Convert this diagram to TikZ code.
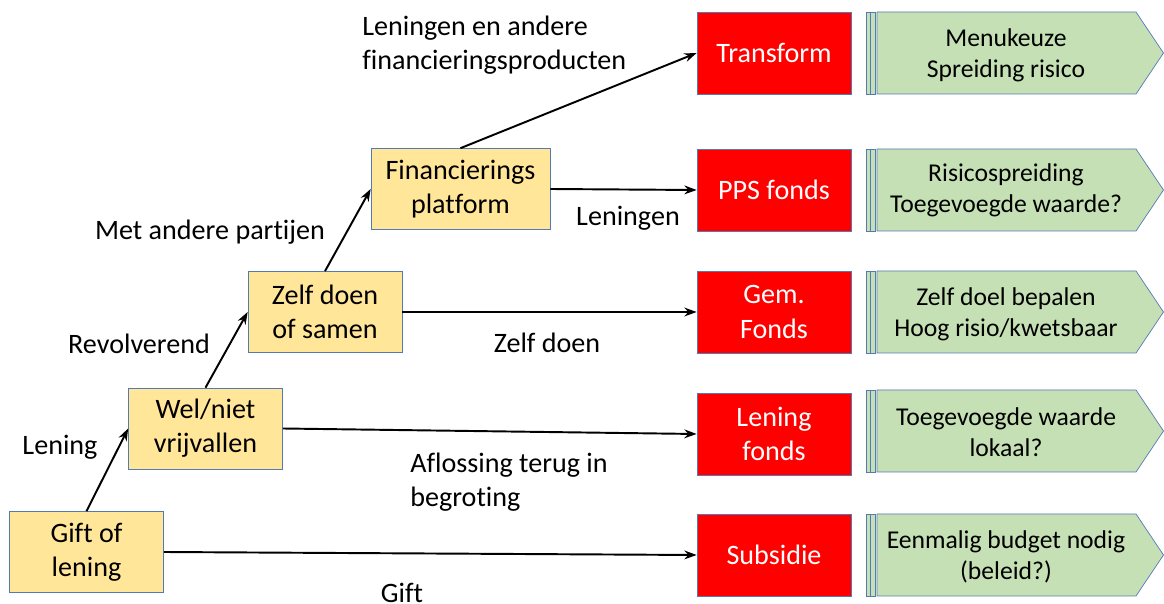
\documentclass[tikz,border=0pt]{standalone}
\usepackage{fontspec}
\setmainfont{Carlito}[Ligatures=NoCommon]
\usetikzlibrary{arrows.meta,positioning}
\definecolor{boxline}{RGB}{84,122,180}
\definecolor{stepfill}{RGB}{255,230,153}
\definecolor{fundred}{RGB}{255,0,0}
\definecolor{notegreen}{RGB}{197,224,180}

\begin{document}
\begin{tikzpicture}[x=0.02cm, y=-0.02cm,
  every node/.style={font=\fontsize{16}{19.5}\selectfont},
  choice/.style={draw=boxline, fill=stepfill, align=center, minimum width=3.08cm, minimum height=1.62cm, inner sep=0pt},
  fund/.style={draw=boxline, fill=fundred, text=white, align=center, minimum width=3.08cm, minimum height=1.64cm, inner sep=0pt},
  note/.style={align=center, inner sep=0pt, font=\fontsize{14.6}{17.6}\selectfont},
  lbl/.style={align=left, inner sep=0pt},
  flow/.style={-{Stealth[length=7pt,width=5pt]}, line width=1.1pt}]
  \useasboundingbox (0,0) rectangle (1164,604);

  % steps (left, yellow)
  \node[choice] (gift) at (86.5,552) {Gift of\\lening};
  \node[choice] (wel) at (205.5,428.5) {Wel/niet\\vrijvallen};
  \node[choice] (zelf) at (325,312) {Zelf doen\\of samen};
  \node[choice, minimum width=3.58cm] (plat) at (460.5,189) {Financierings\\platform};

  % funds (red)
  \foreach \n/\y/\t in {transform/53/Transform, pps/190/PPS fonds, gem/312/Gem.\\Fonds, lfonds/434/Lening\\fonds, subsidie/555/Subsidie} {
    \node[fund] (\n) at (774,\y) {\t};
  }

  % notes (green pentagons with bars)
  \foreach \y in {53,190,312,431,555} {
    \draw[boxline, fill=notegreen] (866,\y-41) rectangle (870,\y+41);
    \draw[boxline, fill=notegreen] (870,\y-41) rectangle (875,\y+41);
    \draw[boxline, fill=notegreen] (877,\y-41) -- (1136,\y-41) -- (1163.5,\y) -- (1136,\y+41) -- (877,\y+41) -- cycle;
  }
  \node[note] (menu) at (1006,55) {Menukeuze\\Spreiding risico};
  \node[note] (risico) at (1006,190) {Risicospreiding\\Toegevoegde waarde?};
  \node[note] (doel) at (1006,314) {Zelf doel bepalen\\Hoog risio/kwetsbaar};
  \node[note] (lokaal) at (1006,432) {Toegevoegde waarde\\lokaal?};
  \node[note] (budget) at (1006,557) {Eenmalig budget nodig\\(beleid?)};

  % connectors
  \draw[flow] (gift.north) -- (wel.west);
  \draw[flow] (wel.north) -- (zelf.west);
  \draw[flow] (zelf.north) -- (plat.west);
  \draw[flow] (plat.north) -- (transform.west);
  \draw[flow] (plat.east) -- (pps.west);
  \draw[flow] (zelf.east) -- (gem.west);
  \draw[flow] (wel.east) -- (lfonds.west);
  \draw[flow] (gift.east) -- (subsidie.west);

  % labels
  \node (tLening) at (60,447) {Lening};
  \node (tRevolv) at (139,344) {Revolverend};
  \node (tAndere) at (210,232) {Met andere partijen};
  \node[lbl, anchor=west] (tProducten) at (362,45) {Leningen en andere\\financieringsproducten};
  \node (tLeningen) at (628,218) {Leningen};
  \node (tZelf) at (547,343) {Zelf doen};
  \node[lbl, anchor=west] (tAflossing) at (410,482) {Aflossing terug in\\begroting};
  \node (tGift) at (402,593) {Gift};
\end{tikzpicture}
\end{document}
